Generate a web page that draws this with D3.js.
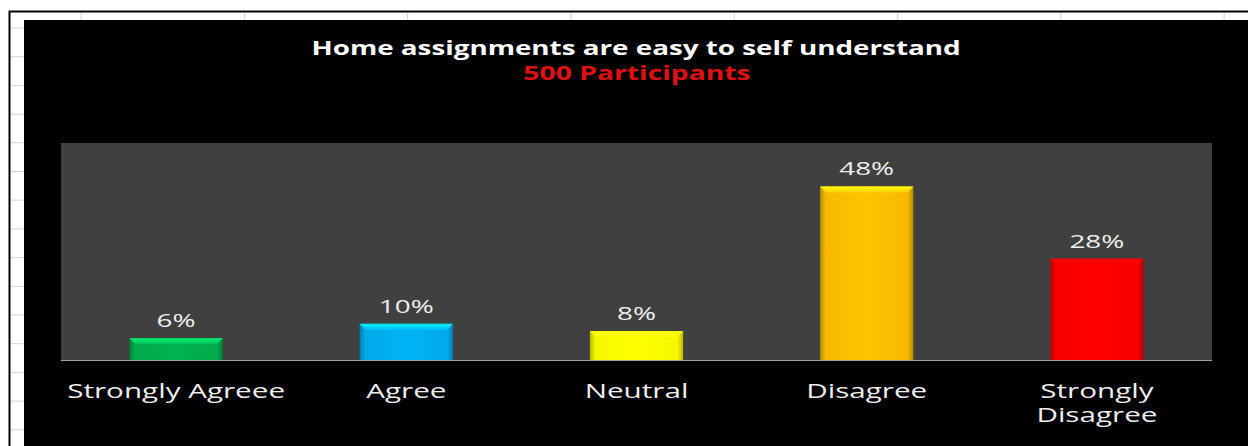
<!DOCTYPE html>
<html><head><meta charset="utf-8">
<script src="https://cdn.jsdelivr.net/npm/d3@7"></script>
<style>html,body{margin:0;padding:0;background:#fff;}svg{display:block;}</style>
</head><body>
<script>
const categories = ["Strongly Agreee", "Agree", "Neutral", "Disagree", "Strongly Disagree"];
const values = [0.06, 0.10, 0.08, 0.48, 0.28];
const valueLabels = ["6%", "10%", "8%", "48%", "28%"];
const barColors = ["#00b050", "#00b0f0", "#ffff00", "#ffc000", "#ff0000"];
const title = "Home assignments are easy to self understand";
const subtitle = "500 Participants";

const W = 1248, H = 446;
const svg = d3.select("body").append("svg").attr("width", W).attr("height", H);
const defs = svg.append("defs");

// spreadsheet background
svg.append("rect").attr("width", W).attr("height", H).attr("fill", "#fff");
const gridX = d3.range(81, W, 163.3);
const gridY = d3.range(28, H, 28.7);
svg.selectAll(".gx").data(gridX).join("line").attr("x1", d => d).attr("x2", d => d)
  .attr("y1", 11).attr("y2", H).attr("stroke", "#d4d4d4").attr("stroke-width", 1);
svg.selectAll(".gy").data(gridY).join("line").attr("y1", d => d).attr("y2", d => d)
  .attr("x1", 9).attr("x2", W).attr("stroke", "#d4d4d4").attr("stroke-width", 1);
svg.append("path").attr("d", `M9.5,${H} V11.5 H${W}`).attr("fill", "none").attr("stroke", "#000").attr("stroke-width", 2);

// chart area
svg.append("rect").attr("x", 24).attr("y", 20).attr("width", W - 24).attr("height", H - 20).attr("fill", "#000");

const plot = {left: 61, right: 1212, top: 143, bottom: 360};
svg.append("rect").attr("x", plot.left).attr("y", plot.top)
  .attr("width", plot.right - plot.left).attr("height", plot.bottom - plot.top).attr("fill", "#404040");

const x = d3.scaleBand().domain(categories).range([plot.left, plot.right]).paddingInner(0.595).paddingOuter(0.2975);
const y = d3.scaleLinear().domain([0, 0.6]).range([plot.bottom, plot.top]);

// gradients
barColors.forEach((c, i) => {
  const base = d3.color(c);
  const g = defs.append("linearGradient").attr("id", "h" + i).attr("x1", 0).attr("x2", 1).attr("y1", 0).attr("y2", 0);
  g.append("stop").attr("offset", 0).attr("stop-color", base.darker(0.9));
  g.append("stop").attr("offset", 0.06).attr("stop-color", base.darker(0.1));
  g.append("stop").attr("offset", 0.5).attr("stop-color", base.brighter(0.05));
  g.append("stop").attr("offset", 0.94).attr("stop-color", base.darker(0.1));
  g.append("stop").attr("offset", 1).attr("stop-color", base.darker(0.9));
  const t = defs.append("linearGradient").attr("id", "t" + i).attr("x1", 0).attr("x2", 0).attr("y1", 0).attr("y2", 1);
  t.append("stop").attr("offset", 0).attr("stop-color", base.brighter(0.9));
  t.append("stop").attr("offset", 1).attr("stop-color", base.brighter(0.2));
});

const bars = svg.append("g").selectAll("g").data(categories).join("g");
bars.append("rect")
  .attr("x", d => x(d)).attr("y", (d, i) => y(values[i]))
  .attr("width", x.bandwidth()).attr("height", (d, i) => y(0) - y(values[i]))
  .attr("fill", (d, i) => `url(#h${i})`);
bars.append("path")
  .attr("d", (d, i) => {
    const x0 = x(d), x1 = x(d) + x.bandwidth(), y0 = y(values[i]);
    return `M${x0},${y0} H${x1} L${x1 - 6},${y0 + 6} H${x0 + 6} Z`;
  })
  .attr("fill", (d, i) => `url(#t${i})`);

// axis line
svg.append("line").attr("x1", plot.left).attr("x2", plot.right).attr("y1", plot.bottom + 0.5).attr("y2", plot.bottom + 0.5)
  .attr("stroke", "#a0a0a0").attr("stroke-width", 1.2);

const font = "'Open Sans', sans-serif";
// value labels (horizontally stretched like the reference)
svg.append("g").selectAll("text").data(categories).join("text")
  .attr("transform", (d, i) => `translate(${x(d) + x.bandwidth() / 2},${y(values[i]) - 11}) scale(1.55,1)`)
  .attr("text-anchor", "middle").attr("font-family", font).attr("font-size", 18)
  .attr("fill", "#eeeeee").text((d, i) => valueLabels[i]);

// category labels
const xAxis = svg.append("g").attr("transform", `translate(0,${plot.bottom})`)
  .call(d3.axisBottom(x).tickSize(0).tickPadding(0));
xAxis.select(".domain").remove();
xAxis.selectAll("text").remove();
xAxis.selectAll(".tick").each(function (d) {
  const words = d === "Strongly Disagree" ? ["Strongly", "Disagree"] : [d];
  const t = d3.select(this).append("text").attr("text-anchor", "middle")
    .attr("transform", "scale(1.52,1)")
    .attr("font-family", font).attr("font-size", 19.5).attr("fill", "#eeeeee");
  words.forEach((w, k) => t.append("tspan").attr("x", 0).attr("y", 38 + k * 24).text(w));
});

// titles
svg.append("text").attr("transform", "translate(636,55) scale(1.39,1)").attr("text-anchor", "middle")
  .attr("font-family", font).attr("font-weight", "bold").attr("font-size", 20).attr("fill", "#fff").text(title);
svg.append("text").attr("transform", "translate(637,80) scale(1.45,1)").attr("text-anchor", "middle")
  .attr("font-family", font).attr("font-weight", "bold").attr("font-size", 19.5).attr("fill", "#e01010").text(subtitle);
</script>
</body></html>
